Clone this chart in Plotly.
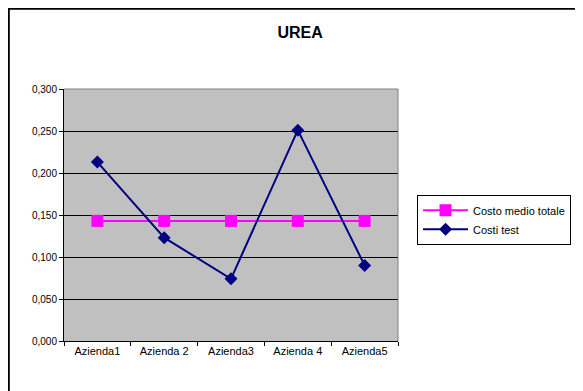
import plotly.graph_objects as go

aziende = ['Azienda1', 'Azienda 2', 'Azienda3', 'Azienda 4', 'Azienda5']
costo_medio = [0.143, 0.143, 0.143, 0.143, 0.143]
costi_test = [0.213, 0.123, 0.074, 0.251, 0.090]
y_ticks = [0.0, 0.05, 0.10, 0.15, 0.20, 0.25, 0.30]

FONT = 'Liberation Sans, Arial, sans-serif'

fig = go.Figure()

fig.add_trace(go.Scatter(
    x=aziende,
    y=costo_medio,
    mode='lines+markers',
    name='Costo medio totale',
    line=dict(color='#FF00FF', width=2),
    marker=dict(symbol='square', size=12, color='#FF00FF')
))

fig.add_trace(go.Scatter(
    x=aziende,
    y=costi_test,
    mode='lines+markers',
    name='Costi test',
    line=dict(color='#000080', width=2),
    marker=dict(symbol='diamond', size=10, color='#000080')
))

# the page adds an 8px body margin, so margins are set 8px smaller
fig.update_layout(
    width=583,
    height=391,
    paper_bgcolor='white',
    plot_bgcolor='#C0C0C0',
    font=dict(family=FONT, size=10, color='black'),
    title=dict(text='<b>UREA</b>', x=0.501, xref='container', xanchor='center',
               y=0.938, yref='container', yanchor='middle',
               font=dict(family=FONT, size=16, color='black')),
    margin=dict(l=56, r=193, t=81, b=58),
    showlegend=True,
    legend=dict(
        x=1.057, y=0.58, xanchor='left', yanchor='top',
        bgcolor='white', bordercolor='black', borderwidth=1,
        font=dict(family=FONT, size=11, color='black'),
        itemwidth=45,
        tracegroupgap=2
    ),
    separators=',.'
)

fig.update_xaxes(
    type='category',
    range=[-0.5, 4.5],
    showgrid=False,
    showline=True, linecolor='black', linewidth=1,
    ticks='outside', tickson='boundaries', ticklen=4, tickcolor='black',
    mirror=False,
    tickfont=dict(family=FONT, size=11, color='black')
)

fig.update_yaxes(
    range=[0, 0.30],
    tickvals=y_ticks,
    tickformat='.3f',
    showgrid=True, gridcolor='black', gridwidth=1,
    zeroline=False,
    showline=True, linecolor='black', linewidth=1,
    ticks='outside', ticklen=4, tickcolor='black',
    tickfont=dict(family=FONT, size=10, color='black')
)

# gray plot area border on top and right
fig.add_shape(type='line', xref='paper', yref='paper', x0=0, x1=1, y0=1, y1=1,
              line=dict(color='#808080', width=1))
fig.add_shape(type='line', xref='paper', yref='paper', x0=1, x1=1, y0=0, y1=1,
              line=dict(color='#808080', width=1))

# outer chart frame
fig.add_shape(type='rect', xref='paper', yref='paper',
              x0=-0.1653, x1=1.7, y0=-0.4, y1=1.3183,
              line=dict(color='black', width=2), layer='below')

fig.write_html('out.html')
